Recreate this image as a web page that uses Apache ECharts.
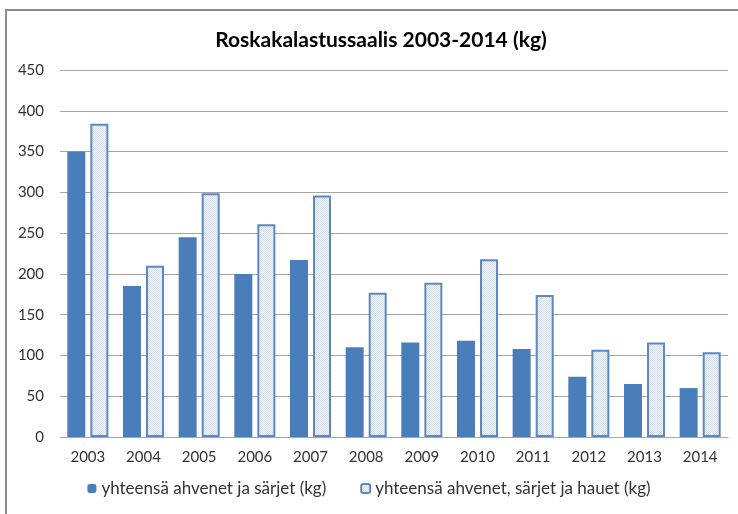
<!DOCTYPE html>
<html>
<head>
<meta charset="utf-8">
<script src="https://cdn.jsdelivr.net/npm/echarts@6/dist/echarts.min.js"></script>
<style>
  html, body { margin: 0; padding: 0; background: #fff; }
  #frame {
    position: absolute; left: 5px; top: 9px; width: 740px; height: 520px;
    border-left: 2px solid #8c8c8c; border-top: 2px solid #8c8c8c;
  }
  #main { position: absolute; left: 0; top: 0; width: 738px; height: 514px; }
</style>
</head>
<body>
<div id="frame"></div>
<div id="main"></div>
<script>
// vuodet ja saaliit (kg)
const years = ['2003', '2004', '2005', '2006', '2007', '2008', '2009', '2010', '2011', '2012', '2013', '2014'];
const ahvenSarki = [350, 185, 245, 200, 217, 110, 116, 118, 108, 74, 65, 60];
const ahvenSarkiHauki = [384, 210, 299, 261, 296, 177, 189, 218, 174, 107, 116, 104];
const yTicks = [0, 50, 100, 150, 200, 250, 300, 350, 400, 450];

// pisterasteri vaaleille pylväille
const dots = document.createElement('canvas');
dots.width = 2; dots.height = 2;
const dctx = dots.getContext('2d');
dctx.fillStyle = '#f4f6fa';
dctx.fillRect(0, 0, 2, 2);
dctx.fillStyle = '#d6dfeb';
dctx.fillRect(0, 0, 1, 1);
dctx.fillRect(1, 1, 1, 1);

const font = 'Lato, "Open Sans", sans-serif';
var myChart = echarts.init(document.getElementById('main'));
var option = {
  animation: false,
  title: {
    text: 'Roskakalastussaalis 2003-2014 (kg)',
    left: 376, top: 25, textAlign: 'center',
    textStyle: { fontFamily: font, fontSize: 21, fontWeight: 'bold', color: '#000' }
  },
  legend: {
    bottom: 12, left: 'center', itemWidth: 9, itemHeight: 9, itemGap: 34,
    textStyle: { fontFamily: font, fontSize: 17, color: '#333' },
    data: ['yhteensä ahvenet ja särjet (kg)', 'yhteensä ahvenet, särjet ja hauet (kg)']
  },
  grid: { left: 60, right: 10, top: 70, bottom: 77 },
  xAxis: {
    type: 'category',
    data: years,
    axisLine: { lineStyle: { color: '#a6a6a6', width: 1 } },
    axisTick: { show: false },
    axisLabel: { fontFamily: font, fontSize: 15, color: '#333', margin: 13 }
  },
  yAxis: {
    type: 'value',
    min: yTicks[0], max: yTicks[yTicks.length - 1], interval: 50,
    axisLine: { show: false },
    axisTick: { show: false },
    axisLabel: { fontFamily: font, fontSize: 15, color: '#333', margin: 16 },
    splitLine: { lineStyle: { color: '#a6a6a6', width: 1 } }
  },
  series: [
    {
      name: 'yhteensä ahvenet ja särjet (kg)',
      type: 'bar',
      data: ahvenSarki,
      barWidth: 18,
      barGap: '28%',
      itemStyle: { color: '#4a7ebb' }
    },
    {
      name: 'yhteensä ahvenet, särjet ja hauet (kg)',
      type: 'bar',
      data: ahvenSarkiHauki,
      barWidth: 18,
      itemStyle: { color: { image: dots, repetition: 'repeat' }, borderColor: '#5b88c4', borderWidth: 2 }
    }
  ]
};
option && myChart.setOption(option);
</script>
</body>
</html>
